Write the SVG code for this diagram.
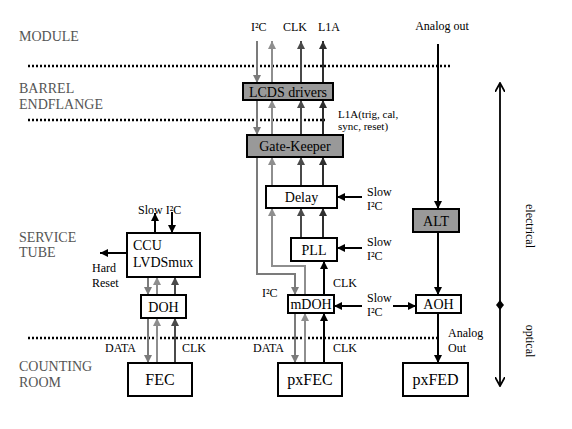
<svg xmlns="http://www.w3.org/2000/svg" width="572" height="429" viewBox="0 0 572 429" font-family="Liberation Serif, Tinos, DejaVu Serif, serif">
<style>
text{font-family:'Liberation Serif','Tinos','DejaVu Serif',serif;fill:#000}
.reg{font-size:14px;fill:#555}
.sm{font-size:12px}
.xs{font-size:11px}
.b14{font-size:14px}
.b16{font-size:16px}
.box{fill:#fff;stroke:#000;stroke-width:2}
.gbox{fill:#999;stroke:#000;stroke-width:2}
.dot{stroke:#000;stroke-width:2.5;stroke-dasharray:2 2;fill:none}
.dn{stroke:#7b7b7b;stroke-width:2;fill:none;marker-end:url(#aDn)}
.up{stroke:#8e8e8e;stroke-width:2;fill:none;marker-end:url(#aUp)}
.clk{stroke:#4a4a4a;stroke-width:2;fill:none;marker-end:url(#aClk)}
.l1a{stroke:#2e2e2e;stroke-width:2;fill:none;marker-end:url(#aL1a)}
.blk{stroke:#000;stroke-width:2;fill:none;marker-end:url(#aBlk)}
</style>
<defs>
<marker id="aDn" viewBox="0 0 10 10" refX="10" refY="5" markerWidth="9" markerHeight="8" markerUnits="userSpaceOnUse" orient="auto"><path d="M0,0L10,5L0,10z" fill="#7b7b7b"/></marker>
<marker id="aUp" viewBox="0 0 10 10" refX="10" refY="5" markerWidth="9" markerHeight="8" markerUnits="userSpaceOnUse" orient="auto"><path d="M0,0L10,5L0,10z" fill="#8e8e8e"/></marker>
<marker id="aClk" viewBox="0 0 10 10" refX="10" refY="5" markerWidth="9" markerHeight="8" markerUnits="userSpaceOnUse" orient="auto"><path d="M0,0L10,5L0,10z" fill="#4a4a4a"/></marker>
<marker id="aL1a" viewBox="0 0 10 10" refX="10" refY="5" markerWidth="9" markerHeight="8" markerUnits="userSpaceOnUse" orient="auto"><path d="M0,0L10,5L0,10z" fill="#2e2e2e"/></marker>
<marker id="aBlk" viewBox="0 0 10 10" refX="10" refY="5" markerWidth="9" markerHeight="8" markerUnits="userSpaceOnUse" orient="auto"><path d="M0,0L10,5L0,10z" fill="#000"/></marker>
<marker id="aOpen" viewBox="0 0 10 10" refX="9" refY="5" markerWidth="10" markerHeight="10" markerUnits="userSpaceOnUse" orient="auto-start-reverse"><path d="M0,0L9,5L0,10" fill="none" stroke="#000" stroke-width="1.8"/></marker>
</defs>

<g id="regions">
<text class="reg" x="19" y="41">MODULE</text>
<text class="reg" x="19" y="93">BARREL</text>
<text class="reg" x="19" y="109">ENDFLANGE</text>
<text class="reg" x="19" y="242">SERVICE</text>
<text class="reg" x="19" y="257">TUBE</text>
<text class="reg" x="19" y="371">COUNTING</text>
<text class="reg" x="19" y="387">ROOM</text>
<line class="dot" x1="28" y1="66" x2="452" y2="66"/>
<line class="dot" x1="28" y1="120" x2="325" y2="120"/>
<line class="dot" x1="28" y1="338" x2="440" y2="338"/>
</g>

<g id="connectors">
<line class="dn" x1="257" y1="41" x2="257" y2="83"/>
<line class="up" x1="272" y1="83" x2="272" y2="41"/>
<line class="clk" x1="301" y1="83" x2="301" y2="41"/>
<line class="l1a" x1="323" y1="83" x2="323" y2="41"/>
<line class="dn" x1="257" y1="100" x2="257" y2="135"/>
<line class="up" x1="272" y1="135" x2="272" y2="100"/>
<line class="clk" x1="301" y1="135" x2="301" y2="100"/>
<line class="l1a" x1="323" y1="135" x2="323" y2="100"/>
<line class="up" x1="272" y1="186" x2="272" y2="157"/>
<line class="clk" x1="301" y1="186" x2="301" y2="157"/>
<line class="l1a" x1="323" y1="186" x2="323" y2="157"/>
<line class="clk" x1="301" y1="238" x2="301" y2="208"/>
<line class="l1a" x1="323" y1="238" x2="323" y2="208"/>
<polyline class="dn" points="257,157 257,274 295,274 295,295"/>
<polyline class="up" points="305,295 305,266 272,266 272,208"/>
<line class="blk" x1="324" y1="295" x2="324" y2="261"/>
<line class="dn" x1="295" y1="313" x2="295" y2="363"/>
<line class="up" x1="305" y1="363" x2="305" y2="313"/>
<line class="blk" x1="324" y1="363" x2="324" y2="313"/>
<line class="blk" x1="362" y1="197" x2="337" y2="197"/>
<line class="blk" x1="362" y1="248" x2="337" y2="248"/>
<line class="blk" x1="362" y1="306" x2="334" y2="306"/>
<line class="blk" x1="393" y1="306" x2="416" y2="306"/>
<line class="blk" x1="438" y1="44" x2="438" y2="209"/>
<line class="blk" x1="438" y1="232" x2="438" y2="295"/>
<line class="blk" x1="438" y1="313" x2="438" y2="363"/>
<line class="blk" x1="155" y1="233" x2="155" y2="213"/>
<line class="blk" x1="172" y1="212" x2="172" y2="233"/>
<line class="blk" x1="127" y1="253" x2="100" y2="253"/>
<line class="dn" x1="148" y1="277" x2="148" y2="295"/>
<line class="up" x1="157" y1="295" x2="157" y2="277"/>
<line class="clk" x1="175" y1="295" x2="175" y2="277"/>
<line class="dn" x1="148" y1="318" x2="148" y2="363"/>
<line class="up" x1="157" y1="363" x2="157" y2="318"/>
<line class="clk" x1="175" y1="363" x2="175" y2="318"/>
<line x1="500" y1="83" x2="500" y2="386" stroke="#000" stroke-width="1.8" marker-start="url(#aOpen)" marker-end="url(#aOpen)"/>
<polygon points="500,300 504,305 500,310 496,305" fill="#000"/>
</g>

<g id="labels">
<text class="sm" x="251" y="31">I²C</text>
<text class="sm" x="283" y="31">CLK</text>
<text class="sm" x="318" y="31">L1A</text>
<text class="sm" x="442" y="30" text-anchor="middle">Analog out</text>
<text class="xs" x="338" y="118">L1A(trig, cal,</text>
<text class="xs" x="338" y="130">sync, reset)</text>
<text class="sm" x="367" y="196">Slow</text>
<text class="sm" x="367" y="210">I²C</text>
<text class="sm" x="367" y="246">Slow</text>
<text class="sm" x="367" y="260">I²C</text>
<text class="sm" x="367" y="302">Slow</text>
<text class="sm" x="367" y="316">I²C</text>
<text class="sm" x="333" y="287">CLK</text>
<text class="sm" x="262" y="297">I²C</text>
<text class="sm" x="253" y="352">DATA</text>
<text class="sm" x="333" y="352">CLK</text>
<text class="sm" x="448" y="337">Analog</text>
<text class="sm" x="448" y="352">Out</text>
<text class="sm" x="138" y="214">Slow I²C</text>
<text class="sm" x="92" y="272">Hard</text>
<text class="sm" x="92" y="287">Reset</text>
<text class="sm" x="105" y="352">DATA</text>
<text class="sm" x="182" y="352">CLK</text>
<text class="sm" transform="translate(526,226) rotate(90)" text-anchor="middle">electrical</text>
<text class="sm" transform="translate(526,341) rotate(90)" text-anchor="middle">optical</text>
</g>

<g id="lcds"><rect class="gbox" x="243" y="83" width="90" height="17"/><text class="b14" x="288" y="97" text-anchor="middle">LCDS drivers</text></g>
<g id="gatekeeper"><rect class="gbox" x="247" y="135" width="96" height="22"/><text class="b14" x="295" y="151" text-anchor="middle">Gate-Keeper</text></g>
<g id="delay"><rect class="box" x="266" y="186" width="71" height="22"/><text class="b14" x="301.5" y="202" text-anchor="middle">Delay</text></g>
<g id="pll"><rect class="box" x="291" y="238" width="46" height="23"/><text class="b14" x="314" y="254.5" text-anchor="middle">PLL</text></g>
<g id="mdoh"><rect class="box" x="288" y="295" width="46" height="18"/><text class="b14" x="311" y="309" text-anchor="middle">mDOH</text></g>
<g id="pxfec"><rect class="box" x="278" y="363" width="64" height="33"/><text class="b16" x="310" y="385" text-anchor="middle">pxFEC</text></g>
<g id="alt"><rect class="gbox" x="413" y="209" width="46" height="23"/><text class="b14" x="436" y="225.5" text-anchor="middle">ALT</text></g>
<g id="aoh"><rect class="box" x="416" y="295" width="45" height="18"/><text class="b14" x="438.5" y="309" text-anchor="middle">AOH</text></g>
<g id="pxfed"><rect class="box" x="403" y="363" width="65" height="33"/><text class="b16" x="435.5" y="385" text-anchor="middle">pxFED</text></g>
<g id="ccu"><rect class="box" x="127" y="233" width="73" height="44"/><text class="b14" x="133" y="250">CCU</text><text class="b14" x="133" y="267">LVDSmux</text></g>
<g id="doh"><rect class="box" x="141" y="295" width="45" height="23"/><text class="b14" x="163.5" y="311.5" text-anchor="middle">DOH</text></g>
<g id="fec"><rect class="box" x="128" y="363" width="64" height="33"/><text class="b16" x="160" y="385" text-anchor="middle">FEC</text></g>
</svg>
